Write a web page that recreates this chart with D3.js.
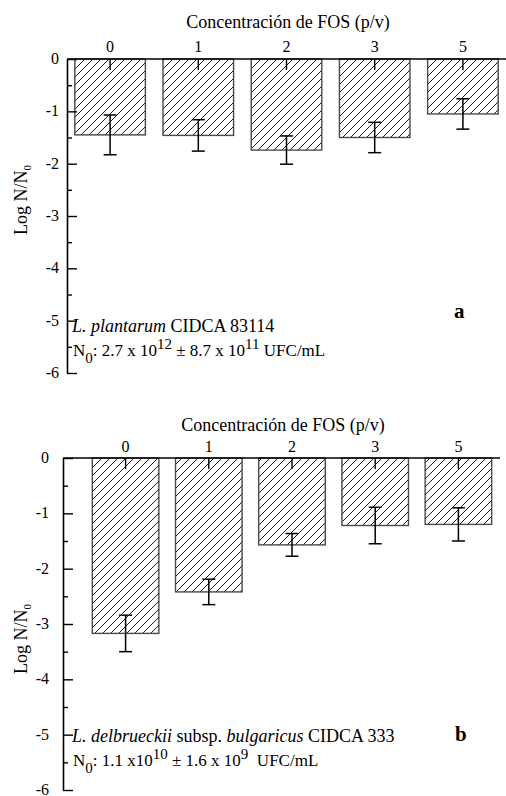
<!DOCTYPE html>
<html>
<head>
<meta charset="utf-8">
<script src="https://cdn.jsdelivr.net/npm/d3@7"></script>
<style>
  html, body { margin: 0; padding: 0; background: #fff; }
  svg { display: block; }
  text { font-family: "Liberation Serif", "Times New Roman", serif; fill: #000; }
</style>
</head>
<body>
<svg id="chart" width="506" height="796"></svg>
<script>
// FOS concentration (% p/v) on the category axis
const categories = ["0", "1", "2", "3", "5"];

// Panel a: L. plantarum CIDCA 83114 — mean log N/N0 and error
const meansA = [-1.45, -1.46, -1.74, -1.50, -1.05];
const errA   = [0.38, 0.30, 0.27, 0.29, 0.29];

// Panel b: L. delbrueckii subsp. bulgaricus CIDCA 333
const meansB = [-3.17, -2.42, -1.57, -1.22, -1.20];
const errB   = [0.33, 0.23, 0.205, 0.33, 0.30];

// Y axis ticks
const yMajor = [0, -1, -2, -3, -4, -5, -6];
const yMinor = [-0.5, -1.5, -2.5, -3.5, -4.5, -5.5];

const svg = d3.select("#chart");

// diagonal hatch fill for the bars
const defs = svg.append("defs");
defs.append("pattern")
  .attr("id", "hatch")
  .attr("patternUnits", "userSpaceOnUse")
  .attr("width", 8).attr("height", 8)
  .append("path")
  .attr("d", "M-2,2 l4,-4 M0,8 l8,-8 M6,10 l4,-4")
  .attr("stroke", "#000")
  .attr("stroke-width", 0.9);

function drawPanel(p) {
  const g = svg.append("g");

  const x = d3.scaleBand()
    .domain(categories)
    .range(p.bandRange)
    .paddingInner(0.2)
    .paddingOuter(0.1);

  const y = d3.scaleLinear()
    .domain([0, -6])
    .range([p.top, p.bottom]);

  // bars hanging from the zero line
  g.selectAll("rect.bar")
    .data(p.means)
    .join("rect")
    .attr("class", "bar")
    .attr("x", (d, i) => x(categories[i]))
    .attr("y", y(0))
    .attr("width", x.bandwidth())
    .attr("height", d => y(d) - y(0))
    .attr("fill", "url(#hatch)")
    .attr("stroke", "#4a4a4a")
    .attr("stroke-width", 1.4);

  // error bars
  const eb = g.selectAll("g.err")
    .data(p.means.map((m, i) => ({ m, e: p.errs[i], c: categories[i] })))
    .join("g")
    .attr("class", "err")
    .attr("transform", d => `translate(${x(d.c) + x.bandwidth() / 2},0)`);
  eb.append("line")
    .attr("y1", d => y(d.m + d.e)).attr("y2", d => y(d.m - d.e))
    .attr("stroke", "#000").attr("stroke-width", 1.5);
  eb.selectAll("line.cap")
    .data(d => [d.m + d.e, d.m - d.e])
    .join("line")
    .attr("class", "cap")
    .attr("x1", -6.5).attr("x2", 6.5)
    .attr("y1", v => y(v)).attr("y2", v => y(v))
    .attr("stroke", "#000").attr("stroke-width", 1.5);

  // top category axis
  const xAxis = g.append("g")
    .attr("transform", `translate(0,${y(0)})`)
    .call(d3.axisTop(x).tickSizeInner(-11).tickSizeOuter(0).tickPadding(p.xPad));
  xAxis.select(".domain").remove();
  xAxis.selectAll(".tick line").attr("stroke", "#000").attr("stroke-width", 1.4);
  xAxis.selectAll(".tick text").attr("font-size", 16)
    .attr("font-family", "Liberation Serif, serif");

  g.append("line")
    .attr("x1", p.axisX).attr("x2", p.axisRight)
    .attr("y1", y(0)).attr("y2", y(0))
    .attr("stroke", "#000").attr("stroke-width", 1.6);

  // left value axis
  const yAxis = g.append("g")
    .attr("transform", `translate(${p.axisX},0)`)
    .call(d3.axisLeft(y).tickValues(yMajor).tickSizeInner(-10).tickSizeOuter(0)
      .tickPadding(p.yPad).tickFormat(d => String(d)));
  yAxis.select(".domain").attr("stroke", "#000").attr("stroke-width", 1.6);
  yAxis.selectAll(".tick line").attr("stroke", "#000").attr("stroke-width", 1.4);
  yAxis.selectAll(".tick text").attr("font-size", 16).attr("dy", "0.28em")
    .attr("font-family", "Liberation Serif, serif");

  const yMinorAxis = g.append("g")
    .attr("transform", `translate(${p.axisX},0)`)
    .call(d3.axisLeft(y).tickValues(yMinor).tickSizeInner(-5).tickSizeOuter(0).tickFormat(""));
  yMinorAxis.select(".domain").remove();
  yMinorAxis.selectAll(".tick line").attr("stroke", "#000").attr("stroke-width", 1.4);

  // axis titles
  g.append("text")
    .attr("x", p.titleX).attr("y", p.titleY)
    .attr("text-anchor", "middle")
    .attr("font-size", 18)
    .text("Concentración de FOS (p/v)");

  const yl = g.append("text")
    .attr("transform", `translate(${p.ylabX},${p.ylabY}) rotate(-90)`)
    .attr("text-anchor", "middle")
    .attr("font-size", 18);
  yl.append("tspan").text("Log N/N");
  yl.append("tspan").attr("font-size", 11).attr("dy", 4).text("0");

  // strain annotation
  const t1 = g.append("text")
    .attr("x", 72).attr("y", p.noteY)
    .attr("font-size", 18);
  p.strain.forEach(s => {
    t1.append("tspan").attr("font-style", s.it ? "italic" : "normal").text(s.t);
  });

  const t2 = g.append("text")
    .attr("x", 73).attr("y", p.noteY + 24)
    .attr("font-size", 17)
    .attr("xml:space", "preserve");
  p.n0.forEach(s => {
    const ts = t2.append("tspan").text(s.t);
    if (s.sub) ts.attr("font-size", 15).attr("dy", 7);
    if (s.sup) ts.attr("font-size", 15).attr("dy", -7);
    if (s.back) ts.attr("dy", s.back);
  });

  g.append("text")
    .attr("x", p.letterX).attr("y", p.letterY)
    .attr("font-size", 21).attr("font-weight", "bold")
    .text(p.letter);
}

drawPanel({
  top: 59, bottom: 373,
  axisX: 67, axisRight: 506,
  bandRange: [66, 507],
  means: meansA, errs: errA,
  xPad: 7, yPad: 8,
  titleX: 288, titleY: 28,
  ylabX: 27, ylabY: 200,
  noteY: 332,
  strain: [{ t: "L. plantarum", it: true }, { t: " CIDCA 83114" }],
  n0: [{ t: "N" }, { t: "0", sub: true }, { t: ": 2.7 x 10", back: -7 },
       { t: "12", sup: true }, { t: " ± 8.7 x 10", back: 7 }, { t: "11", sup: true },
       { t: " UFC/mL", back: 7 }],
  letter: "a", letterX: 454, letterY: 318
});

drawPanel({
  top: 458, bottom: 790,
  axisX: 63, axisRight: 500,
  bandRange: [84, 500],
  means: meansB, errs: errB,
  xPad: 6, yPad: 14,
  titleX: 283, titleY: 431,
  ylabX: 27, ylabY: 639,
  noteY: 742,
  strain: [{ t: "L. delbrueckii", it: true }, { t: " subsp. " },
           { t: "bulgaricus", it: true }, { t: " CIDCA 333" }],
  n0: [{ t: "N" }, { t: "0", sub: true }, { t: ": 1.1 x10", back: -7 },
       { t: "10", sup: true }, { t: " ± 1.6 x 10", back: 7 }, { t: "9", sup: true },
       { t: "  UFC/mL", back: 7 }],
  letter: "b", letterX: 455, letterY: 741
});
</script>
</body>
</html>
